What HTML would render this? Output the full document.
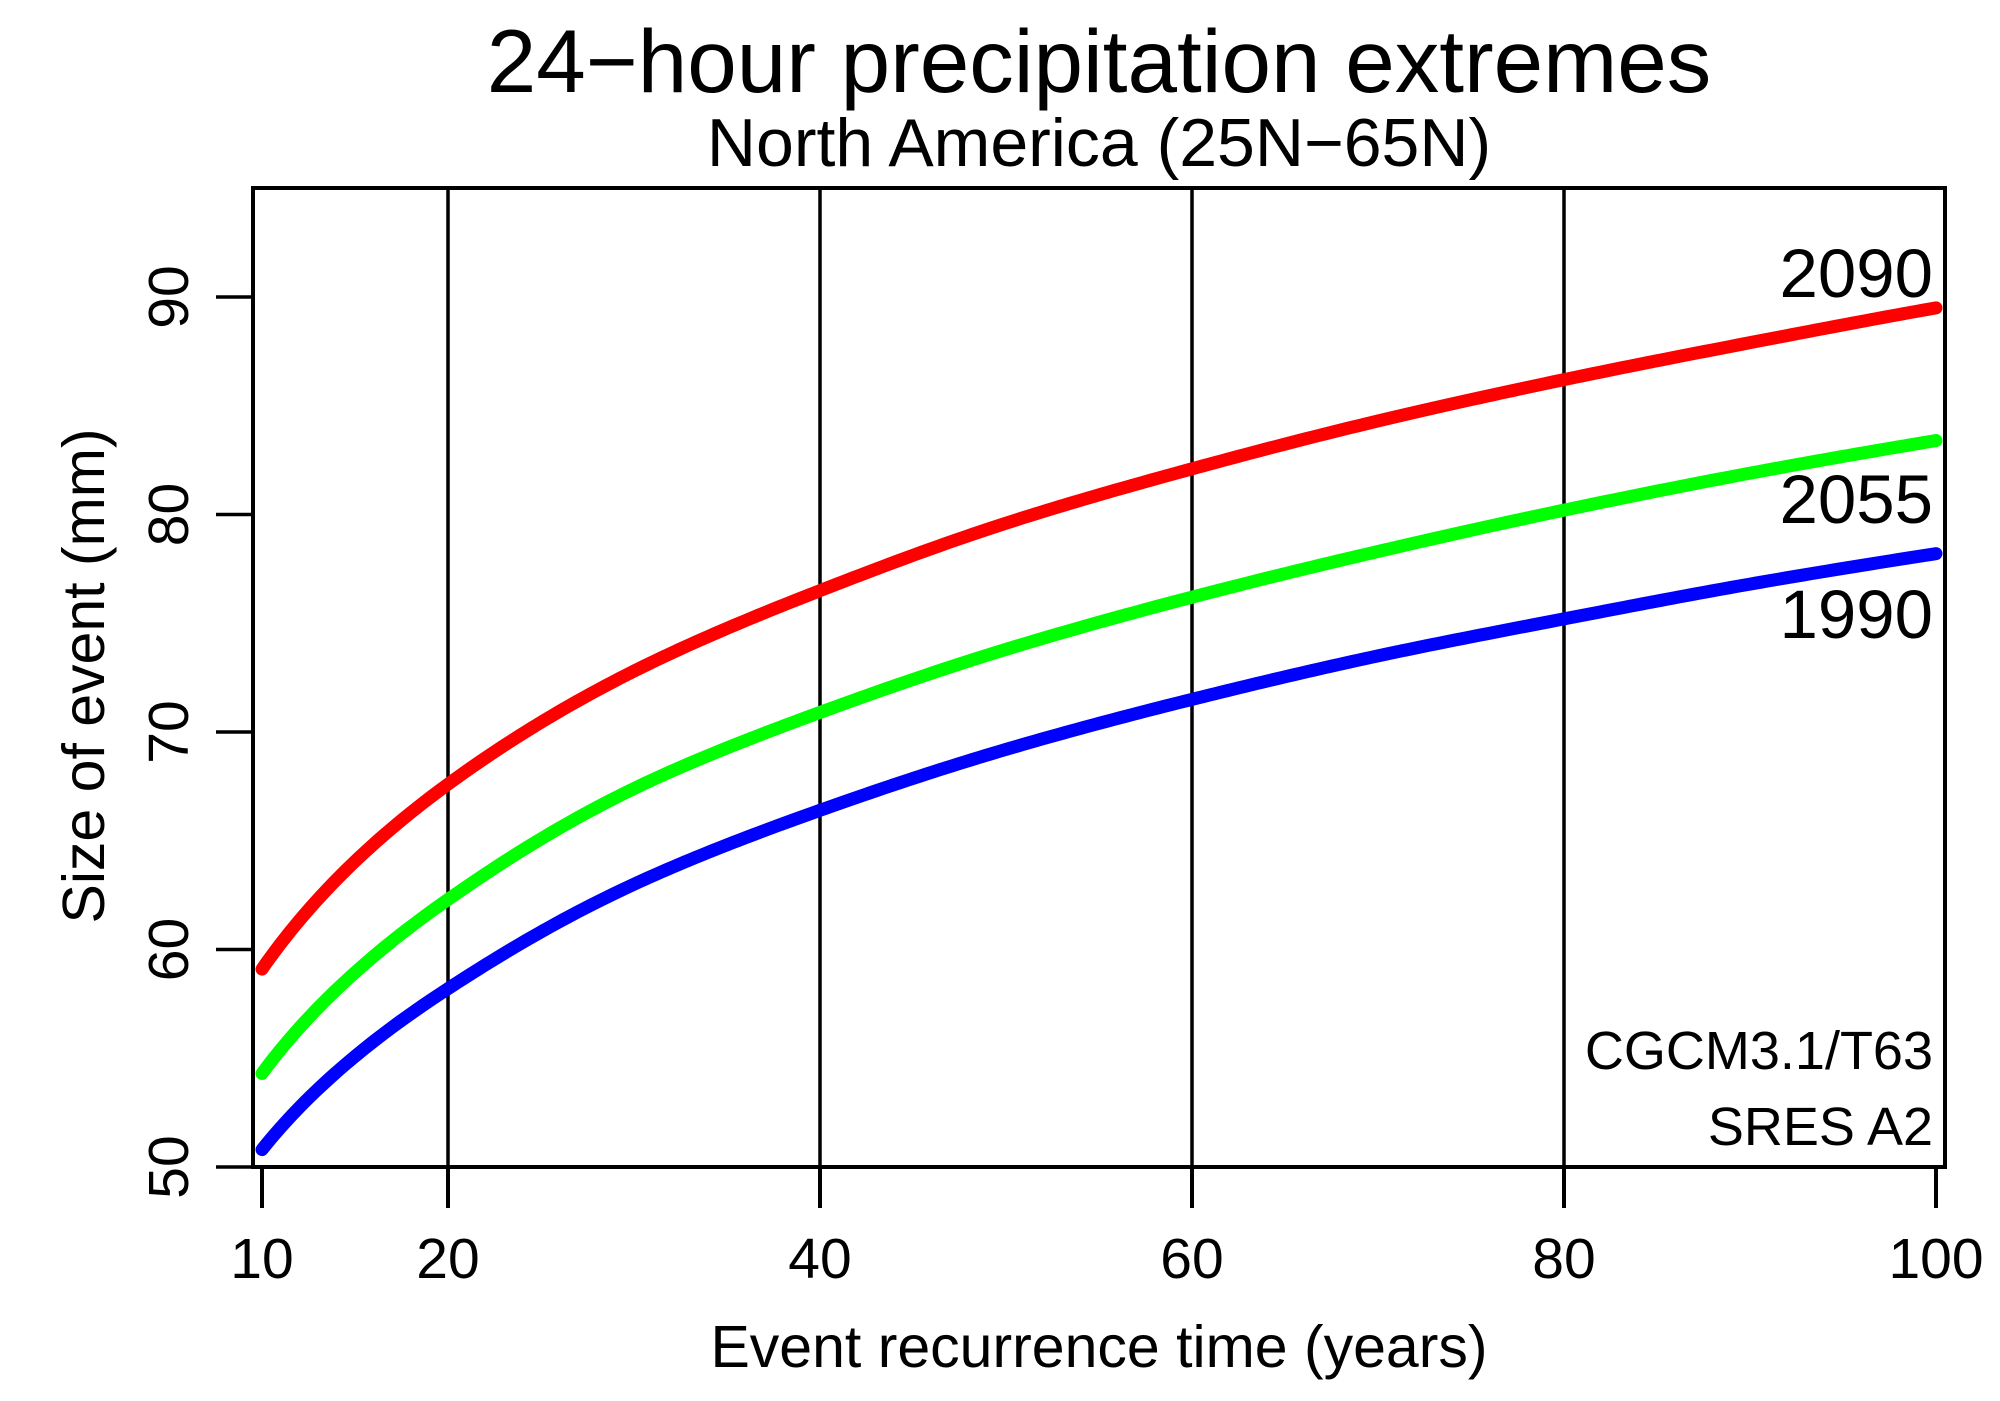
<!DOCTYPE html>
<html><head><meta charset="utf-8"><style>
html,body{margin:0;padding:0;background:#fff;}
svg{display:block;font-family:"Liberation Sans",Arial,sans-serif;}
</style></head><body>
<svg id="chart" width="2000" height="1401" viewBox="0 0 2000 1401">
<text x="1099" y="92" font-size="89" text-anchor="middle">24−hour precipitation extremes</text>
<text x="1099" y="166" font-size="68" text-anchor="middle">North America (25N−65N)</text>
<g id="grid"></g><g id="series"></g><g id="axes"></g>
<rect x="253" y="188" width="1692" height="979" fill="none" stroke="#000" stroke-width="4"/>
<text x="1099" y="1367" font-size="59" text-anchor="middle">Event recurrence time (years)</text>
<text transform="translate(104,676) rotate(-90)" font-size="59" text-anchor="middle">Size of event (mm)</text>
<text x="1933" y="1069" font-size="54" text-anchor="end">CGCM3.1/T63</text>
<text x="1933" y="1145" font-size="54" text-anchor="end">SRES A2</text>
</svg>
<script>
const periods=[10,20,30,40,50,60,70,80,90,100];
const values1990=[50.8,58.2,63.0,66.4,69.2,71.5,73.5,75.2,76.8,78.2];
const values2055=[54.3,62.3,67.4,70.9,73.8,76.2,78.3,80.2,81.9,83.4];
const values2090=[59.1,67.6,72.8,76.5,79.6,82.1,84.3,86.2,87.9,89.5];
const xTicks=[10,20,40,60,80,100];
const gridX=[20,40,60,80];
const yTicks=[50,60,70,80,90];

const NS="http://www.w3.org/2000/svg";
function xs(v){return 262+(v-10)*(1936-262)/90;}
function ys(v){return 1167-(v-50)*(1167-297)/40;}
function mk(tag,attrs,parent){const e=document.createElementNS(NS,tag);for(const k in attrs)e.setAttribute(k,attrs[k]);parent.appendChild(e);return e;}
const grid=document.getElementById('grid'),axes=document.getElementById('axes'),ser=document.getElementById('series');
gridX.forEach(v=>{
  const l=mk('line',{x1:xs(v),x2:xs(v),y1:188,y2:1167,stroke:'#000','stroke-width':3.5},grid);
  
  
});
xTicks.forEach(v=>{
  const t=mk('line',{x1:xs(v),x2:xs(v),y1:1167,y2:1208,stroke:'#000','stroke-width':4},axes);
  
  
  const tx=mk('text',{x:xs(v),y:1278,'font-size':57,'text-anchor':'middle'},axes);
  tx.textContent=v;
  
  
});
yTicks.forEach(v=>{
  const t=mk('line',{x1:216,x2:253,y1:ys(v),y2:ys(v),stroke:'#000','stroke-width':3.5},axes);
  
  
  const tx=mk('text',{transform:`translate(188,${ys(v)}) rotate(-90)`,'font-size':57,'text-anchor':'middle'},axes);
  tx.textContent=v;
  
  
});
// cubic Hermite interpolation in log(period) space, sampled densely
function pathFor(vals){
  const n=periods.length;
  const u=periods.map(p=>Math.log(p));
  const m=vals.map((v,i)=>{
    const a=Math.max(0,i-1),b=Math.min(n-1,i+1);
    return (vals[b]-vals[a])/(u[b]-u[a]);
  });
  const pts=[];
  for(let i=0;i<n-1;i++){
    const h=u[i+1]-u[i];
    const steps=30;
    for(let k=(i===0?0:1);k<=steps;k++){
      const t=k/steps,t2=t*t,t3=t2*t;
      const v=(2*t3-3*t2+1)*vals[i]+(t3-2*t2+t)*h*m[i]+(-2*t3+3*t2)*vals[i+1]+(t3-t2)*h*m[i+1];
      const T=Math.exp(u[i]+t*h);
      pts.push(xs(T).toFixed(2)+','+ys(v).toFixed(2));
    }
  }
  return 'M'+pts.join(' L');
}
const series=[[values1990,'#0000ff','1990',638],[values2055,'#00ff00','2055',523],[values2090,'#ff0000','2090',297]];
series.forEach(s=>{
  const pth=mk('path',{d:pathFor(s[0]),fill:'none',stroke:s[1],'stroke-width':13,'stroke-linecap':'round','stroke-linejoin':'round'},ser);
  
  
  const lb=mk('text',{x:1933,y:s[3],'font-size':69,'text-anchor':'end'},ser);
  lb.textContent=s[2];
  
  
});
</script>
</body></html>
